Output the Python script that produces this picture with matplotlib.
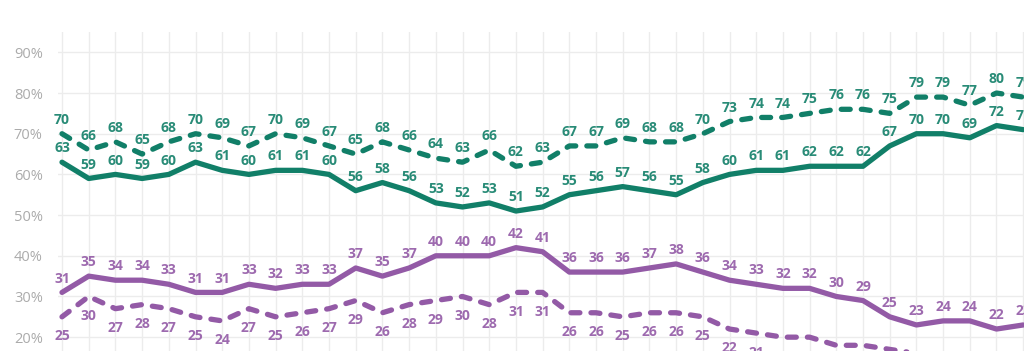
import numpy as np
import matplotlib.pyplot as plt

plt.rcParams['font.family'] = ['Open Sans', 'DejaVu Sans']

# 数据（从图中读取，单位：%）
green_dashed = [70, 66, 68, 65, 68, 70, 69, 67, 70, 69, 67, 65, 68, 66, 64, 63, 66, 62, 63,
                67, 67, 69, 68, 68, 70, 73, 74, 74, 75, 76, 76, 75, 79, 79, 77, 80, 79]
green_solid = [63, 59, 60, 59, 60, 63, 61, 60, 61, 61, 60, 56, 58, 56, 53, 52, 53, 51, 52,
               55, 56, 57, 56, 55, 58, 60, 61, 61, 62, 62, 62, 67, 70, 70, 69, 72, 71]
purple_solid = [31, 35, 34, 34, 33, 31, 31, 33, 32, 33, 33, 37, 35, 37, 40, 40, 40, 42, 41,
                36, 36, 36, 37, 38, 36, 34, 33, 32, 32, 30, 29, 25, 23, 24, 24, 22, 23]
purple_dashed = [25, 30, 27, 28, 27, 25, 24, 27, 25, 26, 27, 29, 26, 28, 29, 30, 28, 31, 31,
                 26, 26, 25, 26, 26, 25, 22, 21, 20, 20, 18, 18, 17, 16, 16, 15, 15, 14]
y_ticks = [20, 30, 40, 50, 60, 70, 80, 90]

GREEN = '#117f68'
PURPLE = '#935aa6'

fig = plt.figure(figsize=(10.24, 3.51), dpi=100)
ax = fig.add_axes([58 / 1024, 0, 966 / 1024, 319 / 351])

x = np.arange(len(green_solid))
series = [
    (green_dashed, GREEN, True, 10),
    (green_solid, GREEN, False, 10),
    (purple_solid, PURPLE, False, 10),
    (purple_dashed, PURPLE, True, -14),
]
for vals, color, dashed, off in series:
    line, = ax.plot(x, vals, color=color, linewidth=3.8, solid_capstyle='round',
                    solid_joinstyle='round')
    if dashed:
        line.set_dashes((1.7, 2.1))
        line.set_dash_capstyle('round')
    for xi, v in zip(x, vals):
        ax.annotate(str(v), (xi, v), xytext=(0, off), textcoords='offset points',
                    ha='center', va='center', fontsize=10, fontweight='bold',
                    color=color, alpha=0.9, annotation_clip=False)

ax.set_xlim(-0.15, 36.03)
ax.set_ylim(16.6, 95)
ax.set_xticks(x)
ax.set_yticks(y_ticks)
ax.set_yticklabels([f'{t}%' for t in y_ticks])
ax.tick_params(axis='x', length=0, labelbottom=False)
ax.tick_params(axis='y', length=0, pad=11, labelsize=10.5, labelcolor='#ababab')
ax.grid(True, color='#ececec', linewidth=1)
ax.set_axisbelow(True)
for s in ax.spines.values():
    s.set_visible(False)

fig.savefig('out.png', dpi=100)
